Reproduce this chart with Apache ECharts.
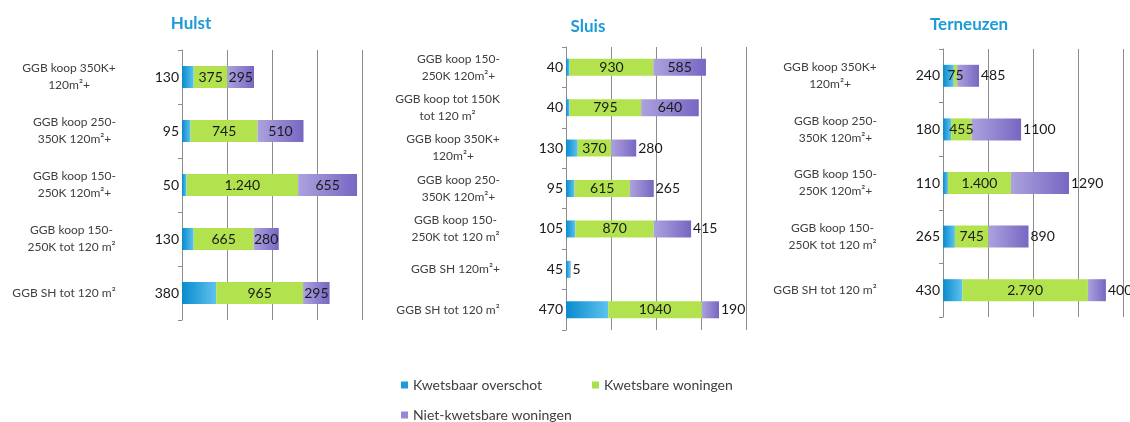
<!DOCTYPE html>
<html>
<head>
<meta charset="utf-8">
<script src="https://cdn.jsdelivr.net/npm/echarts@6/dist/echarts.min.js"></script>
<style>
  html, body { margin: 0; padding: 0; background: #fff; }
  #main { width: 1130px; height: 422px; }
</style>
</head>
<body>
<div id="main"></div>
<script>
// Data
const seriesNames = ['Kwetsbaar overschot', 'Kwetsbare woningen', 'Niet-kwetsbare woningen'];

const hulstCategories = ['GGB koop 350K+\n120m²+', 'GGB koop 250-\n350K 120m²+', 'GGB koop 150-\n250K 120m²+', 'GGB koop 150-\n250K tot 120 m²', 'GGB SH tot 120 m²'];
const hulstOverschot = [130, 95, 50, 130, 380];
const hulstKwetsbaar = [375, 745, 1240, 665, 965];
const hulstNietKwetsbaar = [295, 510, 655, 280, 295];

const sluisCategories = ['GGB koop 150-\n250K 120m²+', 'GGB koop tot 150K\ntot 120 m²', 'GGB koop 350K+\n120m²+', 'GGB koop 250-\n350K 120m²+', 'GGB koop 150-\n250K tot 120 m²', 'GGB SH 120m²+', 'GGB SH tot 120 m²'];
const sluisOverschot = [40, 40, 130, 95, 105, 45, 470];
const sluisKwetsbaar = [930, 795, 370, 615, 870, 0, 1040];
const sluisNietKwetsbaar = [585, 640, 280, 265, 415, 5, 190];

const terneuzenCategories = ['GGB koop 350K+\n120m²+', 'GGB koop 250-\n350K 120m²+', 'GGB koop 150-\n250K 120m²+', 'GGB koop 150-\n250K tot 120 m²', 'GGB SH tot 120 m²'];
const terneuzenOverschot = [240, 180, 110, 265, 430];
const terneuzenKwetsbaar = [75, 455, 1400, 745, 2790];
const terneuzenNietKwetsbaar = [485, 1100, 1290, 890, 400];

// Layout per panel
const panels = [
    { title: 'Hulst', tx: 191, ty: 24, cats: hulstCategories, blue: hulstOverschot, green: hulstKwetsbaar, purple: hulstNietKwetsbaar,
      left: 182, top: 50, height: 270, max: 2000, interval: 500, barWidth: 22, purpleInside: 5, dots: true },
    { title: 'Sluis', tx: 588, ty: 27, cats: sluisCategories, blue: sluisOverschot, green: sluisKwetsbaar, purple: sluisNietKwetsbaar,
      left: 566, top: 47, height: 283, max: 2000, interval: 500, barWidth: 17, purpleInside: 2, dots: false },
    { title: 'Terneuzen', tx: 969, ty: 25, cats: terneuzenCategories, blue: terneuzenOverschot, green: terneuzenKwetsbaar, purple: terneuzenNietKwetsbaar,
      left: 943, top: 49, height: 268, max: 4000, interval: 1000, barWidth: 22, purpleInside: 0, dots: true }
];

const FONT = 'Lato, "Open Sans", sans-serif';
const CAT_FONT_SIZE = 12;
const GRID_COLOR = '#8c8c8c';

function fmt(v, dots) {
    if (!v) return '';
    let s = String(v);
    if (dots && v >= 1000) s = s.slice(0, -3) + '.' + s.slice(-3);
    return s;
}

// measure text to centre the lines of a two-line category label
const measureCtx = document.createElement('canvas').getContext('2d');
measureCtx.font = CAT_FONT_SIZE + 'px ' + FONT;
function textWidth(t) { return Math.ceil(measureCtx.measureText(t).width); }

const blueFill = new echarts.graphic.LinearGradient(0, 0, 1, 0, [
    { offset: 0, color: '#0a8bcd' }, { offset: 1, color: '#5ec2ef' }
]);
const greenFill = '#b2e34f';
const purpleFill = new echarts.graphic.LinearGradient(0, 0, 1, 0, [
    { offset: 0, color: '#aca2de' }, { offset: 1, color: '#7866c2' }
]);

const valueLabel = { fontSize: 14, color: '#1a1a1a', fontFamily: FONT };

const grids = [], xAxes = [], yAxes = [], series = [], graphics = [];

panels.forEach(function (p, i) {
    const rich = {};
    p.cats.forEach(function (c, k) {
        const lines = c.split('\n');
        rich['c' + i + 'x' + k] = {
            width: Math.max.apply(null, lines.map(textWidth)), align: 'center',
            fontSize: CAT_FONT_SIZE, lineHeight: 17, color: '#404040', fontFamily: FONT
        };
    });

    grids.push({ left: p.left, top: p.top, width: 180, height: p.height });
    xAxes.push({
        type: 'value', gridIndex: i, min: 0, max: p.max, interval: p.interval,
        axisLabel: { show: false }, axisLine: { show: false }, axisTick: { show: false },
        splitLine: { show: true, lineStyle: { color: GRID_COLOR, width: 1 } }
    });
    yAxes.push({
        type: 'category', gridIndex: i, inverse: true, data: p.cats,
        axisLine: { show: true, lineStyle: { color: GRID_COLOR } },
        axisTick: { show: true, length: 4, lineStyle: { color: GRID_COLOR } },
        axisLabel: {
            margin: 66, fontSize: CAT_FONT_SIZE, lineHeight: 17, color: '#404040', fontFamily: FONT,
            formatter: function (value, k) {
                const key = 'c' + i + 'x' + k;
                return value.split('\n').map(function (l) { return '{' + key + '|' + l + '}'; }).join('\n');
            },
            rich: rich
        }
    });
    series.push({
        name: seriesNames[0], type: 'bar', stack: 's' + i, xAxisIndex: i, yAxisIndex: i,
        barWidth: p.barWidth, data: p.blue, itemStyle: { color: blueFill },
        label: Object.assign({ show: true, position: 'left', distance: 3 }, valueLabel)
    });
    series.push({
        name: seriesNames[1], type: 'bar', stack: 's' + i, xAxisIndex: i, yAxisIndex: i,
        barWidth: p.barWidth, data: p.green, itemStyle: { color: greenFill },
        label: Object.assign({ show: true, position: 'inside', formatter: function (d) { return fmt(d.value, p.dots); } }, valueLabel)
    });
    series.push({
        name: seriesNames[2], type: 'bar', stack: 's' + i, xAxisIndex: i, yAxisIndex: i,
        barWidth: p.barWidth, itemStyle: { color: purpleFill },
        data: p.purple.map(function (v, k) {
            return { value: v, label: { position: k < p.purpleInside ? 'inside' : 'right' } };
        }),
        label: Object.assign({ show: true, distance: 2 }, valueLabel)
    });
    graphics.push({
        type: 'text', x: p.tx, y: p.ty,
        style: { text: p.title, align: 'center', verticalAlign: 'middle', fill: '#1b9bd7',
                 font: 'bold 17px ' + FONT }
    });
});

const legendBase = {
    orient: 'horizontal', icon: 'rect', itemWidth: 7, itemHeight: 7, itemGap: 10,
    textStyle: { fontSize: 14, color: '#404040', fontFamily: FONT }
};

const myChart = echarts.init(document.getElementById('main'), null, { renderer: 'canvas' });
myChart.setOption({
    backgroundColor: '#ffffff',
    animation: false,
    grid: grids,
    xAxis: xAxes,
    yAxis: yAxes,
    series: series,
    graphic: graphics,
    legend: [
        Object.assign({}, legendBase, { left: 396, top: 373, data: [{ name: seriesNames[0], itemStyle: { color: '#1f9bd9' } }] }),
        Object.assign({}, legendBase, { left: 587, top: 373, data: [{ name: seriesNames[1], itemStyle: { color: '#a9e04e' } }] }),
        Object.assign({}, legendBase, { left: 396, top: 403, data: [{ name: seriesNames[2], itemStyle: { color: '#9689d4' } }] })
    ]
});
</script>
</body>
</html>
